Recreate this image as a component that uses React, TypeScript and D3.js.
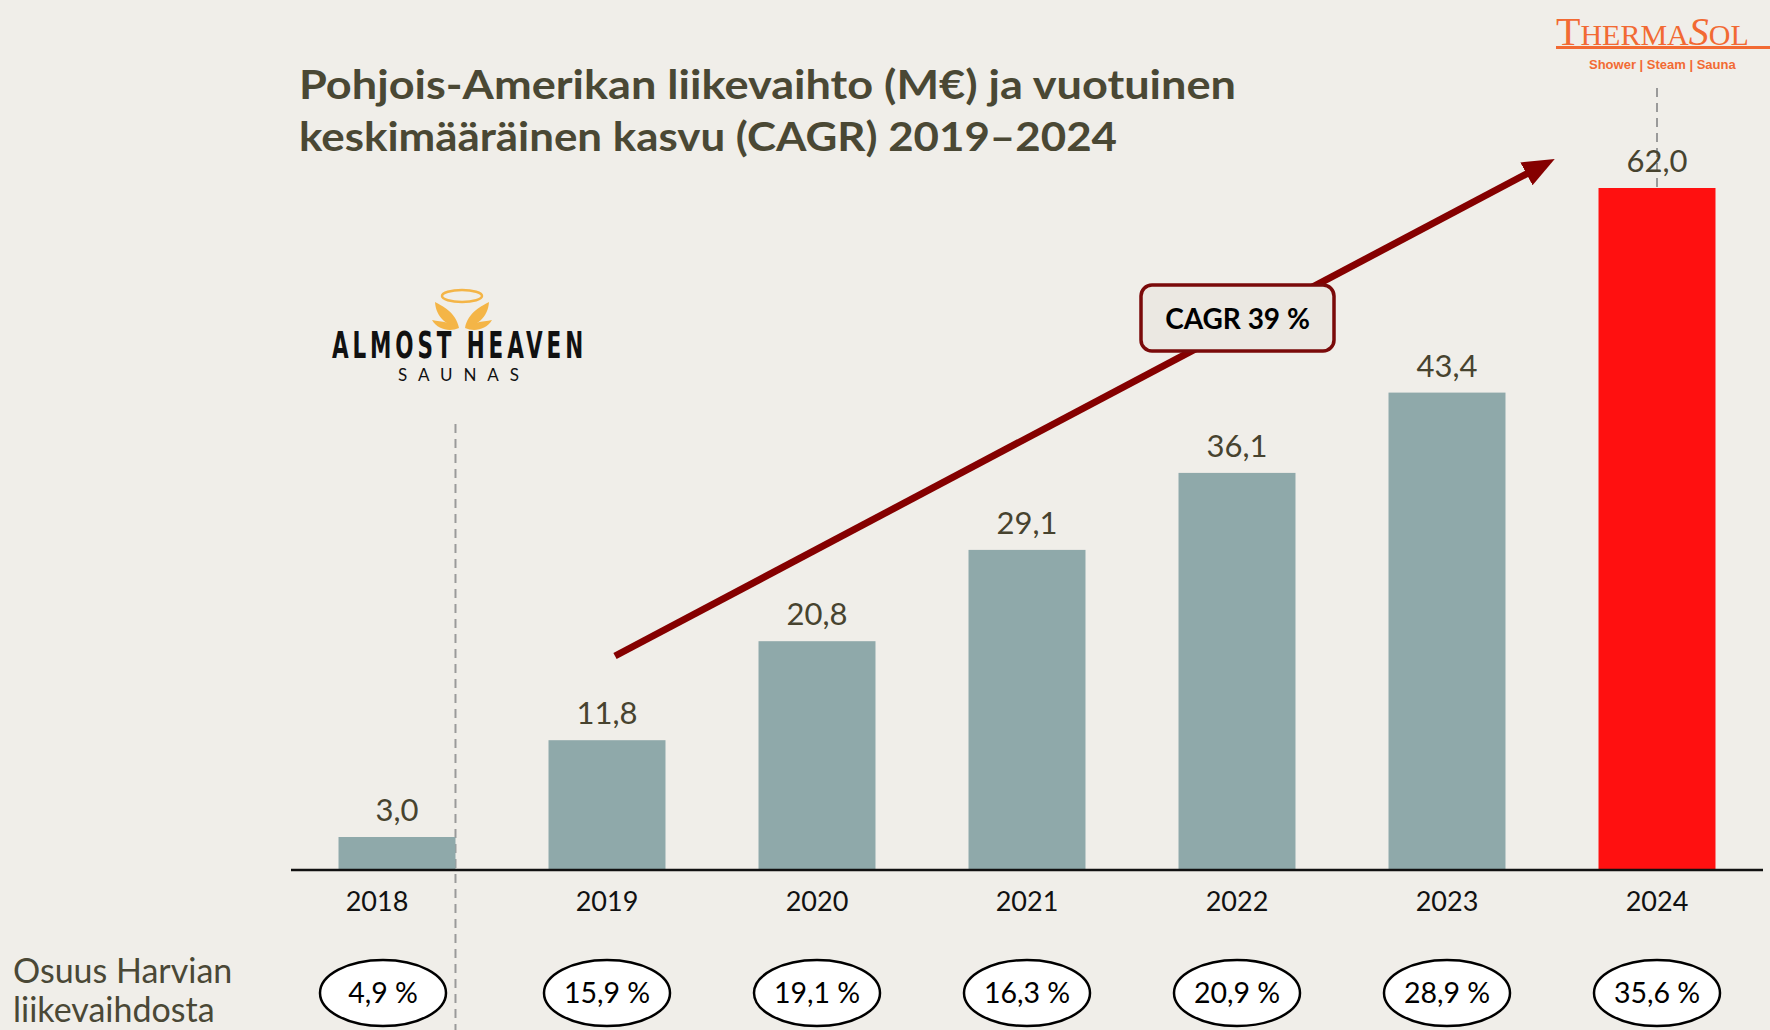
import { useEffect, useRef } from 'react';
import * as d3 from 'd3';

const years = ['2018', '2019', '2020', '2021', '2022', '2023', '2024'];
const revenue = [3.0, 11.8, 20.8, 29.1, 36.1, 43.4, 62.0];
const shares = ['4,9 %', '15,9 %', '19,1 %', '16,3 %', '20,9 %', '28,9 %', '35,6 %'];
const titleLines = [
  'Pohjois-Amerikan liikevaihto (M€) ja vuotuinen',
  'keskimääräinen kasvu (CAGR) 2019–2024',
];
const titleWidths = [937, 818];
const shareLabel = ['Osuus Harvian', 'liikevaihdosta'];
const cagrLabel = 'CAGR 39 %';

const width = 1770;
const height = 1030;
const font = 'Lato, "Open Sans", sans-serif';

const App = () => {
  const svgRef = useRef<SVGSVGElement>(null);

  useEffect(() => {
    const svg = d3.select(svgRef.current);
    svg.selectAll('*').remove();

    svg.append('rect').attr('width', width).attr('height', height).attr('fill', '#f0eee9');

    // scales
    const x = d3.scaleBand()
      .domain(years)
      .range([292, 1762])
      .paddingInner(0.443)
      .paddingOuter(0.2215);
    const y = d3.scaleLinear().domain([0, 62]).range([870, 188]);
    const cx = (yr: string) => (x(yr) as number) + x.bandwidth() / 2;

    // title
    svg.append('g').selectAll('text')
      .data(titleLines)
      .enter().append('text')
      .attr('x', 299)
      .attr('y', (d, i) => 99 + i * 52)
      .attr('textLength', (d, i) => titleWidths[i])
      .attr('lengthAdjust', 'spacingAndGlyphs')
      .attr('font-family', font)
      .attr('font-weight', 700)
      .attr('font-size', 41)
      .attr('fill', '#4a4834')
      .text(d => d);

    // dashed separators
    const sepX = (x('2018') as number) + x.bandwidth();
    svg.append('line')
      .attr('x1', sepX).attr('x2', sepX)
      .attr('y1', 424).attr('y2', height)
      .attr('stroke', '#9a9a9a').attr('stroke-width', 2)
      .attr('stroke-dasharray', '9,6');
    svg.append('line')
      .attr('x1', cx('2024')).attr('x2', cx('2024'))
      .attr('y1', 88).attr('y2', y(62))
      .attr('stroke', '#9a9a9a').attr('stroke-width', 2)
      .attr('stroke-dasharray', '9,6');

    // bars
    svg.append('g').selectAll('rect')
      .data(revenue)
      .enter().append('rect')
      .attr('x', (d, i) => x(years[i]) as number)
      .attr('y', d => y(d))
      .attr('width', x.bandwidth())
      .attr('height', d => y(0) - y(d))
      .attr('fill', (d, i) => (i === years.length - 1 ? '#ff1010' : '#8fa9aa'));

    // value labels
    svg.append('g').selectAll('text')
      .data(revenue)
      .enter().append('text')
      .attr('x', (d, i) => cx(years[i]))
      .attr('y', d => y(d) - 16)
      .attr('text-anchor', 'middle')
      .attr('font-family', font)
      .attr('font-size', 31)
      .attr('fill', '#47432f')
      .text(d => d3.format('.1f')(d).replace('.', ','));

    // axis line + years (2018 nudged left of the separator)
    svg.append('line')
      .attr('x1', 291).attr('x2', 1763)
      .attr('y1', y(0)).attr('y2', y(0))
      .attr('stroke', '#111').attr('stroke-width', 2.5);
    svg.append('g').selectAll('text')
      .data(years)
      .enter().append('text')
      .attr('x', (d, i) => cx(d) - (i === 0 ? 20 : 0))
      .attr('y', 911)
      .attr('text-anchor', 'middle')
      .attr('font-family', font)
      .attr('font-size', 27)
      .attr('fill', '#111')
      .text(d => d);

    // share ovals
    const ovals = svg.append('g').selectAll('g')
      .data(shares)
      .enter().append('g')
      .attr('transform', (d, i) => `translate(${cx(years[i]) - (i === 0 ? 14 : 0)}, 993)`);
    ovals.append('ellipse')
      .attr('rx', 63).attr('ry', 33)
      .attr('fill', '#fff')
      .attr('stroke', '#000').attr('stroke-width', 2.5);
    ovals.append('text')
      .attr('text-anchor', 'middle')
      .attr('dy', '0.35em')
      .attr('font-family', font)
      .attr('font-size', 28.5)
      .attr('fill', '#000')
      .text(d => d);

    svg.append('g').selectAll('text')
      .data(shareLabel)
      .enter().append('text')
      .attr('x', 13)
      .attr('y', (d, i) => 983 + i * 39)
      .attr('font-family', font)
      .attr('font-size', 34)
      .attr('fill', '#4a4836')
      .text(d => d);

    // CAGR arrow
    svg.append('defs').append('marker')
      .attr('id', 'head')
      .attr('markerUnits', 'userSpaceOnUse')
      .attr('markerWidth', 34).attr('markerHeight', 30)
      .attr('refX', 4).attr('refY', 15)
      .attr('orient', 'auto')
      .append('path')
      .attr('d', 'M0,2 L32,15 L0,28 Z')
      .attr('fill', '#850000');
    svg.append('line')
      .attr('x1', 615).attr('y1', 656)
      .attr('x2', 1530).attr('y2', 172)
      .attr('stroke', '#850000').attr('stroke-width', 7)
      .attr('marker-end', 'url(#head)');

    const box = svg.append('g').attr('transform', 'translate(1141, 285)');
    box.append('rect')
      .attr('width', 193).attr('height', 66).attr('rx', 11)
      .attr('fill', '#ebe8e2')
      .attr('stroke', '#7a0a0a').attr('stroke-width', 3.5);
    box.append('text')
      .attr('x', 96.5).attr('y', 34).attr('dy', '0.35em')
      .attr('text-anchor', 'middle')
      .attr('font-family', font)
      .attr('font-weight', 700)
      .attr('font-size', 28)
      .attr('fill', '#000')
      .text(cagrLabel);

    // Almost Heaven logo
    const ah = svg.append('g');
    ah.append('ellipse')
      .attr('cx', 462).attr('cy', 296).attr('rx', 20).attr('ry', 6)
      .attr('fill', 'none').attr('stroke', '#f4b547').attr('stroke-width', 2.5);
    [-1, 1].forEach(s => {
      ah.append('path')
        .attr('d', `M${462 + s * 3},328 C${462 + s * 6},312 ${462 + s * 20},306 ${462 + s * 27},302 C${462 + s * 26},318 ${462 + s * 14},326 ${462 + s * 3},328 Z`)
        .attr('fill', '#f4b547');
      ah.append('path')
        .attr('d', `M${462 + s * 3},328 C${462 + s * 10},322 ${462 + s * 20},322 ${462 + s * 30},320 C${462 + s * 24},330 ${462 + s * 12},332 ${462 + s * 3},328 Z`)
        .attr('fill', '#f4b547');
    });
    ah.append('text')
      .attr('x', 332).attr('y', 358)
      .attr('textLength', 255).attr('lengthAdjust', 'spacingAndGlyphs')
      .attr('font-family', '"DejaVu Sans Condensed", "Liberation Sans Narrow", sans-serif')
      .attr('font-weight', 700)
      .attr('font-size', 37)
      .attr('letter-spacing', 6)
      .attr('fill', '#111')
      .text('ALMOST HEAVEN');
    ah.append('text')
      .attr('x', 398).attr('y', 381)
      .attr('textLength', 121).attr('lengthAdjust', 'spacing')
      .attr('font-family', font)
      .attr('font-size', 17)
      .attr('fill', '#111')
      .text('SAUNAS');

    // ThermaSol logo
    const ts = svg.append('g').attr('fill', '#f26a33');
    const logo = ts.append('text')
      .attr('x', 1556).attr('y', 45)
      .attr('font-family', '"Liberation Serif", serif')
      .attr('font-size', 30);
    logo.append('tspan').attr('font-size', 40).text('T');
    logo.append('tspan').text('HERMA');
    logo.append('tspan').attr('font-size', 40).attr('font-style', 'italic').text('S');
    logo.append('tspan').text('OL');
    ts.append('rect').attr('x', 1556).attr('y', 46).attr('width', 214).attr('height', 3);
    ts.append('text')
      .attr('x', 1589).attr('y', 69)
      .attr('font-family', '"Liberation Sans", Arial, sans-serif')
      .attr('font-weight', 700)
      .attr('font-size', 13)
      .text('Shower | Steam | Sauna');
  }, []);

  return (
    <svg
      ref={svgRef}
      width={width}
      height={height}
      style={{ position: 'fixed', left: 0, top: 0 }}
    />
  );
};

export default App;
